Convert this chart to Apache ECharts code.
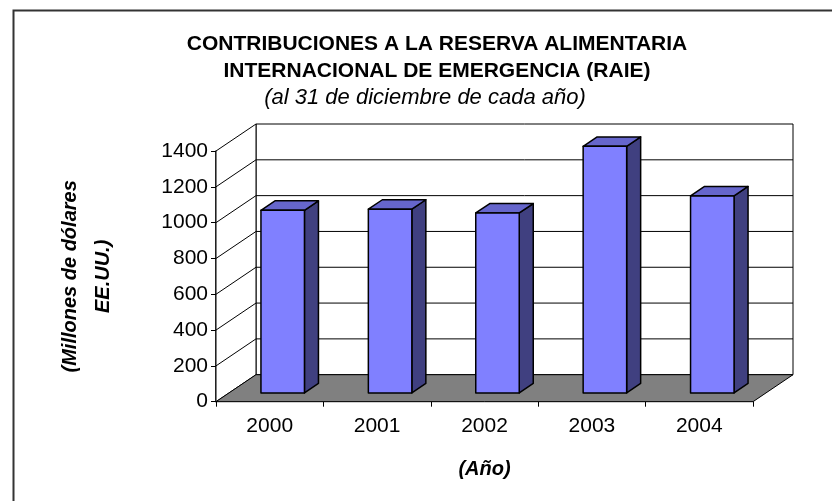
<!DOCTYPE html>
<html>
<head>
<meta charset="utf-8">
<script src="https://cdn.jsdelivr.net/npm/echarts@6/dist/echarts.min.js"></script>
<style>
  html, body { margin: 0; padding: 0; background: #fff; }
  #chart { width: 832px; height: 501px; }
</style>
</head>
<body>
<div id="chart"></div>
<script>
  const years = ['2000', '2001', '2002', '2003', '2004'];
  const contributions = [1020, 1026, 1005, 1377, 1100];
  const yTicks = [0, 200, 400, 600, 800, 1000, 1200, 1400];

  // oblique 3d look (Excel style)
  const DEPTH_X = 40;
  const DEPTH_Y = -27;
  const BAR_FRONT = 0.325;
  const BAR_BACK = 0.675;
  const BAR_WIDTH = 0.405;
  const FONT = '"Liberation Sans", Arial, sans-serif';

  const chart = echarts.init(document.getElementById('chart'));

  function renderFrame(params, api) {
    const cs = params.coordSys;
    const x0 = cs.x;
    const x1 = cs.x + cs.width;
    const yBase = api.coord([0, yTicks[0]])[1];
    const yTop = api.coord([0, yTicks[yTicks.length - 1]])[1];
    const line = { stroke: '#000', lineWidth: 1, fill: null };
    const children = [
      {
        type: 'rect',
        shape: { x: x0 + DEPTH_X, y: yTop + DEPTH_Y, width: cs.width, height: yBase - yTop },
        style: { fill: '#fff', stroke: '#000', lineWidth: 1 }
      },
      {
        type: 'polygon',
        shape: { points: [[x0, yBase], [x0, yTop], [x0 + DEPTH_X, yTop + DEPTH_Y], [x0 + DEPTH_X, yBase + DEPTH_Y]] },
        style: { fill: '#fff', stroke: '#000', lineWidth: 1 }
      },
      {
        type: 'polygon',
        shape: { points: [[x0, yBase], [x1, yBase], [x1 + DEPTH_X, yBase + DEPTH_Y], [x0 + DEPTH_X, yBase + DEPTH_Y]] },
        style: { fill: '#808080', stroke: '#000', lineWidth: 1 }
      }
    ];
    yTicks.slice(1, -1).forEach(v => {
      const y = api.coord([0, v])[1];
      children.push({
        type: 'line',
        shape: { x1: x0 + DEPTH_X, y1: y + DEPTH_Y, x2: x1 + DEPTH_X, y2: y + DEPTH_Y },
        style: line
      });
      children.push({
        type: 'line',
        shape: { x1: x0, y1: y, x2: x0 + DEPTH_X, y2: y + DEPTH_Y },
        style: line
      });
    });
    return { type: 'group', children };
  }

  function renderBar(params, api) {
    const i = api.value(0);
    const base = api.coord([i, 0]);
    const top = api.coord([i, api.value(1)]);
    const bw = api.size([1, 0])[0] * BAR_WIDTH;
    const fx = base[0] - bw / 2 + BAR_FRONT * DEPTH_X;
    const yb = base[1] + BAR_FRONT * DEPTH_Y;
    const yt = top[1] + BAR_FRONT * DEPTH_Y;
    const dx = (BAR_BACK - BAR_FRONT) * DEPTH_X;
    const dy = (BAR_BACK - BAR_FRONT) * DEPTH_Y;
    const edge = { stroke: '#000', lineWidth: 1.5, lineJoin: 'round' };
    return {
      type: 'group',
      children: [
        {
          type: 'polygon',
          shape: { points: [[fx + bw, yb], [fx + bw, yt], [fx + bw + dx, yt + dy], [fx + bw + dx, yb + dy]] },
          style: Object.assign({ fill: '#404080' }, edge)
        },
        {
          type: 'polygon',
          shape: { points: [[fx, yt], [fx + bw, yt], [fx + bw + dx, yt + dy], [fx + dx, yt + dy]] },
          style: Object.assign({ fill: '#6666cc' }, edge)
        },
        {
          type: 'rect',
          shape: { x: fx, y: yt, width: bw, height: yb - yt },
          style: Object.assign({ fill: '#8080ff' }, edge)
        }
      ]
    };
  }

  const option = {
    backgroundColor: '#fff',
    animation: false,
    title: [
      {
        text: 'CONTRIBUCIONES A LA RESERVA ALIMENTARIA\nINTERNACIONAL DE EMERGENCIA (RAIE)',
        left: 432,
        top: 26,
        textAlign: 'center',
        textStyle: { fontFamily: FONT, fontSize: 21, fontWeight: 'bold', color: '#000', lineHeight: 27 }
      },
      {
        text: '(al 31 de diciembre de cada año)',
        left: 420,
        top: 82,
        textAlign: 'center',
        textStyle: { fontFamily: FONT, fontSize: 22, fontWeight: 'normal', fontStyle: 'italic', color: '#000' }
      }
    ],
    graphic: [
      {
        type: 'rect',
        shape: { x: 13.5, y: 10.5, width: 900, height: 600 },
        style: { fill: null, stroke: '#333', lineWidth: 2 },
        silent: true
      }
    ],
    grid: { left: 216, top: 151, width: 537, height: 250.7 },
    xAxis: {
      type: 'category',
      data: years,
      boundaryGap: true,
      name: '(Año)',
      nameLocation: 'middle',
      nameGap: 58,
      nameTextStyle: { fontFamily: FONT, fontSize: 20, fontWeight: 'bold', fontStyle: 'italic', color: '#000' },
      axisLine: { lineStyle: { color: '#000', width: 1 } },
      axisTick: { show: true, length: 5, lineStyle: { color: '#000' } },
      axisLabel: { fontFamily: FONT, fontSize: 21, color: '#000', margin: 14 },
      splitLine: { show: false }
    },
    yAxis: {
      type: 'value',
      min: yTicks[0],
      max: yTicks[yTicks.length - 1],
      interval: yTicks[1] - yTicks[0],
      name: '(Millones de dólares\nEE.UU.)',
      nameLocation: 'middle',
      nameRotate: 90,
      nameGap: 96,
      nameTextStyle: { fontFamily: FONT, fontSize: 20, fontWeight: 'bold', fontStyle: 'italic', color: '#000', lineHeight: 33 },
      axisLine: { show: true, lineStyle: { color: '#000', width: 1.5 } },
      axisTick: { show: true, length: 5, lineStyle: { color: '#000' } },
      axisLabel: { fontFamily: FONT, fontSize: 21, color: '#000', margin: 8, formatter: v => String(v) },
      splitLine: { show: false }
    },
    series: [
      {
        type: 'custom',
        name: 'frame',
        silent: true,
        z: 1,
        renderItem: renderFrame,
        data: [[0, 0]]
      },
      {
        type: 'custom',
        name: 'RAIE',
        z: 3,
        renderItem: renderBar,
        data: contributions.map((v, i) => [i, v])
      }
    ]
  };

  chart.setOption(option);
</script>
</body>
</html>
